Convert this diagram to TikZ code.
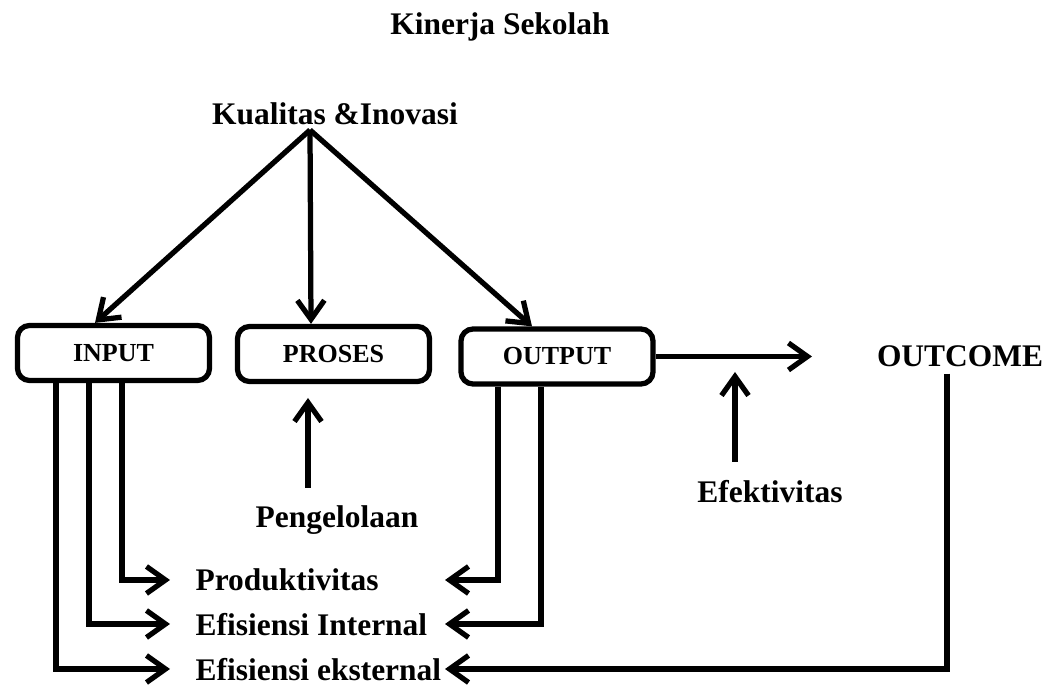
\documentclass[tikz,border=0pt]{standalone}
\usepackage{fontspec}
\setmainfont{Liberation Serif}
\usetikzlibrary{arrows.meta}

\begin{document}
\begin{tikzpicture}[every path/.style={line width=0.105cm},
	txt/.style={font=\fontsize{17.9pt}{20pt}\selectfont\bfseries, inner sep=0pt, text depth=0pt},
	boxed/.style={draw, rounded corners=0.24cm, minimum width=3.84cm, minimum height=1.1cm, inner sep=0pt, font=\fontsize{14.8pt}{17pt}\selectfont\bfseries},
	arr/.style={-{Straight Barb[length=0.38cm,width=0.54cm]}}]
\useasboundingbox (0,0) rectangle (21.24,13.72);
\node[txt, anchor=base] (title) at (10.0, 13.02) {Kinerja Sekolah};
\node[txt, anchor=base] (kual) at (6.70, 11.22) {Kualitas \&Inovasi};
\coordinate (apex) at (6.2, 11.12);
\node[boxed] (in) at (2.27, 6.66) {INPUT};
\node[boxed] (pro) at (6.67, 6.64) {PROSES};
\node[boxed] (out) at (11.14, 6.59) {OUTPUT};
\node[txt, anchor=base] (outcome) at (19.2, 6.38) {OUTCOME};
\coordinate (oc) at (16.24, 6.59);
\node[txt, anchor=base] (efek) at (15.4, 3.66) {Efektivitas};
\coordinate (ef0) at (14.7, 4.48);
\coordinate (ef1) at (14.7, 6.28);
\node[txt, anchor=base] (peng) at (6.74, 3.16) {Pengelolaan};
\coordinate (pg0) at (6.16, 3.96);
\coordinate (pg1) at (6.16, 5.76);
\node[txt, anchor=west] (prod) at (3.86, 2.12) {Produktivitas};
\node[txt, anchor=west] (effi) at (3.86, 1.24) {Efisiensi Internal};
\node[txt, anchor=west] (efex) at (3.86, 0.34) {Efisiensi eksternal};
% kualitas ke tiga kotak
\draw[arr] (apex) to ([xshift=-0.37cm]in.north);
\draw[arr] (apex) to ([xshift=-0.45cm]pro.north);
\draw[arr] (apex) to ([xshift=-0.5cm]out.north);
\draw[arr] (out.east) to (oc);
\draw[arr] (ef0) to (ef1);
\draw[arr] (pg0) to (pg1);
% dari input
\draw[arr] ([xshift=0.17cm]in.south) |- ([xshift=-0.46cm]prod.west);
\draw[arr] ([xshift=-0.49cm]in.south) |- ([xshift=-0.46cm]effi.west);
\draw[arr] ([xshift=-1.15cm]in.south) |- ([xshift=-0.46cm]efex.west);
% dari output dan outcome
\draw[arr] ([xshift=-1.18cm]out.south) |- ([xshift=5.04cm]prod.west);
\draw[arr] ([xshift=-0.32cm]out.south) |- ([xshift=5.04cm]effi.west);
\draw[arr] ([xshift=-0.26cm,yshift=-0.08cm]outcome.south) |- ([xshift=5.04cm]efex.west);
\end{tikzpicture}
\end{document}
